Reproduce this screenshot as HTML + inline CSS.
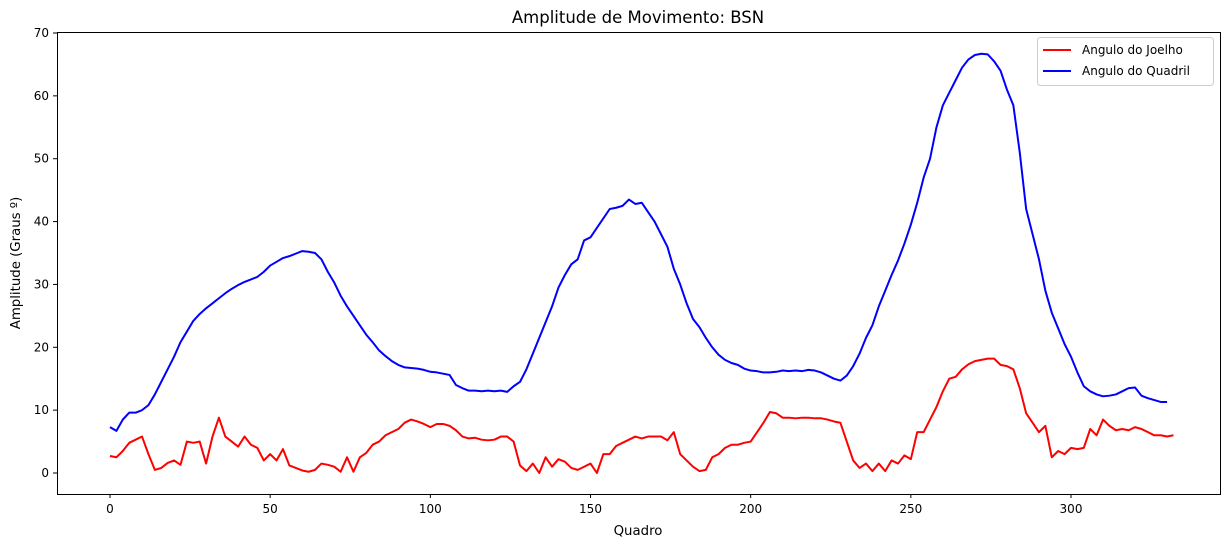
<!DOCTYPE html>
<html><head><meta charset="utf-8"><style>
body{margin:0;background:#fff;}
svg text{font-family:"DejaVu Sans","Liberation Sans",sans-serif;fill:#000;}
</style></head><body>
<svg id="chart" width="1229" height="547" xmlns="http://www.w3.org/2000/svg">
<rect width="1229" height="547" fill="#fff"/>
<text x="638" y="23" font-size="16.5" text-anchor="middle">Amplitude de Movimento: BSN</text>
<text x="638" y="535" font-size="13.3" text-anchor="middle">Quadro</text>
<text transform="translate(20,263) rotate(-90)" font-size="13.3" text-anchor="middle">Amplitude (Graus º)</text>
<g id="ticks"></g>
<g id="series"></g>
<rect x="57.5" y="32.5" width="1163" height="462" fill="none" stroke="#000" stroke-width="1"/>
<g>
<rect x="1037.5" y="37.5" width="176" height="48" rx="3" fill="#fff" stroke="#ccc"/>
<line x1="1043" y1="50" x2="1071" y2="50" stroke="#ff0000" stroke-width="2"/>
<text x="1082" y="54" font-size="12">Angulo do Joelho</text>
<line x1="1043" y1="71" x2="1071" y2="71" stroke="#0000ff" stroke-width="2"/>
<text x="1082" y="75" font-size="12">Angulo do Quadril</text>
</g>
</svg>
<script>
const frameStep = 2;
const hipValues = [7.3,6.7,8.5,9.6,9.6,10.0,10.8,12.5,14.5,16.5,18.5,20.8,22.5,24.2,25.3,26.2,27.0,27.8,28.6,29.3,29.9,30.4,30.8,31.2,32.0,33.0,33.6,34.2,34.5,34.9,35.3,35.2,35.0,34.0,32.0,30.3,28.2,26.5,25.0,23.5,22.0,20.8,19.5,18.6,17.8,17.2,16.8,16.7,16.6,16.4,16.1,16.0,15.8,15.6,14.0,13.5,13.1,13.1,13.0,13.1,13.0,13.1,12.9,13.8,14.5,16.5,19.0,21.5,24.0,26.5,29.5,31.5,33.2,34.0,37.0,37.5,39.0,40.5,42.0,42.2,42.5,43.5,42.8,43.0,41.5,40.0,38.0,36.0,32.5,30.0,27.0,24.5,23.2,21.5,20.0,18.8,18.0,17.5,17.2,16.6,16.3,16.2,16.0,16.0,16.1,16.3,16.2,16.3,16.2,16.4,16.3,16.0,15.5,15.0,14.7,15.5,17.0,19.0,21.5,23.5,26.5,29.0,31.5,33.8,36.5,39.5,43.0,47.0,50.0,55.0,58.5,60.5,62.5,64.5,65.8,66.5,66.7,66.6,65.5,64.0,61.0,58.5,51.0,42.0,38.0,34.0,29.0,25.5,23.0,20.5,18.5,16.0,13.8,13.0,12.5,12.2,12.3,12.5,13.0,13.5,13.6,12.3,11.9,11.6,11.3,11.3];
const kneeValues = [2.7,2.5,3.5,4.8,5.3,5.8,3.0,0.5,0.8,1.6,2.0,1.3,5.0,4.8,5.0,1.5,5.8,8.8,5.8,5.0,4.2,5.8,4.5,4.0,2.0,3.0,2.0,3.8,1.2,0.8,0.4,0.2,0.5,1.5,1.3,1.0,0.2,2.5,0.2,2.5,3.2,4.5,5.0,6.0,6.5,7.0,8.0,8.5,8.2,7.8,7.3,7.8,7.8,7.5,6.8,5.8,5.5,5.6,5.3,5.2,5.3,5.8,5.8,5.0,1.2,0.3,1.5,0.0,2.5,1.0,2.2,1.8,0.8,0.5,1.0,1.5,0.0,3.0,3.0,4.3,4.8,5.3,5.8,5.5,5.8,5.8,5.8,5.2,6.5,3.0,2.0,1.0,0.3,0.5,2.5,3.0,4.0,4.5,4.5,4.8,5.0,6.5,8.0,9.7,9.5,8.8,8.8,8.7,8.8,8.8,8.7,8.7,8.5,8.2,8.0,5.0,2.0,0.8,1.5,0.3,1.5,0.3,2.0,1.5,2.8,2.2,6.5,6.5,8.5,10.5,13.0,15.0,15.3,16.5,17.3,17.8,18.0,18.2,18.2,17.2,17.0,16.5,13.5,9.5,8.0,6.5,7.5,2.5,3.5,3.0,4.0,3.8,4.0,7.0,6.0,8.5,7.5,6.8,7.0,6.8,7.3,7.0,6.5,6.0,6.0,5.8,6.0];
const xTicks = [0,50,100,150,200,250,300];
const yTicks = [0,10,20,30,40,50,60,70];

const NS = "http://www.w3.org/2000/svg";
function xs(v){ return 110 + v * (961/300); }
function ys(v){ return 473 - v * (440/70); }
const tg = document.getElementById('ticks');
xTicks.forEach(t => {
  const l = document.createElementNS(NS,'line');
  l.setAttribute('x1', xs(t)); l.setAttribute('x2', xs(t));
  l.setAttribute('y1', 494); l.setAttribute('y2', 498);
  l.setAttribute('stroke','#000');
  
  
  tg.appendChild(l);
  const tx = document.createElementNS(NS,'text');
  tx.setAttribute('x', xs(t)); tx.setAttribute('y', 513);
  tx.setAttribute('font-size','12'); tx.setAttribute('text-anchor','middle');
  tx.textContent = t;
  
  
  tg.appendChild(tx);
});
yTicks.forEach(t => {
  const l = document.createElementNS(NS,'line');
  l.setAttribute('x1', 53); l.setAttribute('x2', 57);
  l.setAttribute('y1', ys(t)); l.setAttribute('y2', ys(t));
  l.setAttribute('stroke','#000');
  
  
  tg.appendChild(l);
  const tx = document.createElementNS(NS,'text');
  tx.setAttribute('x', 49); tx.setAttribute('y', ys(t) + 4);
  tx.setAttribute('font-size','12'); tx.setAttribute('text-anchor','end');
  tx.textContent = t;
  
  
  tg.appendChild(tx);
});
const sg = document.getElementById('series');
function drawLine(vals, color, name){
  const pts = vals.map((v,i) => xs(i*frameStep).toFixed(2) + ',' + ys(v).toFixed(2)).join(' ');
  const p = document.createElementNS(NS,'polyline');
  p.setAttribute('points', pts);
  p.setAttribute('fill','none'); p.setAttribute('stroke', color);
  p.setAttribute('stroke-width','2'); p.setAttribute('stroke-linejoin','round');
  
  
  sg.appendChild(p);
}
drawLine(kneeValues, '#ff0000', 'knee-angle-line');
drawLine(hipValues, '#0000ff', 'hip-angle-line');
</script>
</body></html>
